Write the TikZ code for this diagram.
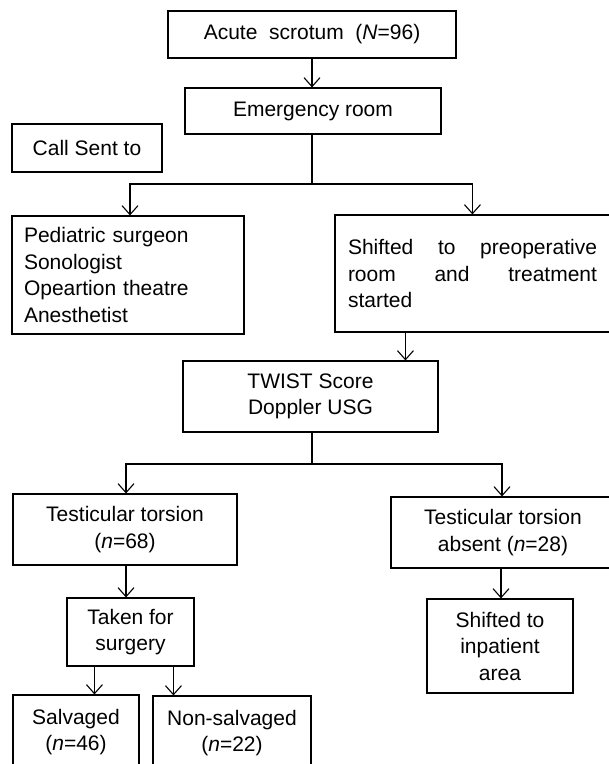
\documentclass[tikz,border=0pt]{standalone}
\usepackage{fontspec}
\setmainfont{Liberation Sans}
\usetikzlibrary{arrows.meta}
\begin{document}
\begin{tikzpicture}[x=1pt,y=-1pt,
  box/.style={draw, line width=1.1pt, inner sep=0pt, font=\fontsize{21}{26.5}\selectfont, align=center},
  arr/.style={line width=1.1pt, -{Straight Barb[length=9pt,width=16pt,line width=1.1pt]}},
  ln/.style={line width=1.1pt}]
\useasboundingbox (0,0) rectangle (609,764);
\clip (0,0) rectangle (609,764);
\fill[white] (0,0) rectangle (609,764);
% boxes
\node[box, minimum width=288pt, minimum height=47pt] (acute) at (312,34.5) {Acute\ \ scrotum\ \ (\textit{N}=96)};
\node[box, minimum width=256pt, minimum height=46pt] (er) at (313,111) {Emergency room};
\node[box, minimum width=150pt, minimum height=48pt] (call) at (87,148) {Call Sent to};
\node[box, text width=208pt, inner xsep=12pt, align=left, minimum height=118pt] (ped) at (128,275)
  {Pediatric surgeon\\Sonologist\\Opeartion\ theatre\\Anesthetist};
\node[box, text width=249pt, inner xsep=13pt, align=left, minimum height=117pt] (shift) at (472.5,273.5)
  {\leavevmode\hbox to 249pt{Shifted\hfill to\hfill preoperative}\\\leavevmode\hbox to 249pt{room\hfill and\hfill treatment}\\started};
\node[box, minimum width=255pt, minimum height=71pt] (twist) at (310.5,396.5) {TWIST Score\\Doppler USG};
\node[box, minimum width=224pt, minimum height=71pt] (tt) at (125,529.5) {Testicular torsion\\(\textit{n}=68)};
\node[box, minimum width=224pt, minimum height=71pt] (absent) at (503,532.5) {Testicular torsion\\absent\ (\textit{n}=28)};
\node[box, minimum width=127pt, minimum height=68pt] (taken) at (130.5,632) {Taken for\\surgery};
\node[box, minimum width=146pt, minimum height=94pt] (inp) at (500,646) {Shifted to\\inpatient\\area};
\node[box, minimum width=126pt, minimum height=96pt] (salv) at (76,743) {Salvaged\\(\textit{n}=46)\\\mbox{}};
\node[box, minimum width=158pt, minimum height=96pt] (nons) at (232,744) {Non-salvaged\\(\textit{n}=22)\\\mbox{}};
% connectors
\draw[arr] (acute.south) -- (acute.south |- er.north);
\coordinate (j1) at (312,184);
\draw[ln] (j1 |- er.south) -- (j1);
\coordinate (pl) at ([xshift=2pt]ped.north);
\draw[arr] (j1) -| (pl);
\coordinate (sr) at ([xshift=138pt]shift.north west);
\draw[arr] (j1) -| (sr);
\coordinate (s2) at ([xshift=71pt]shift.south west);
\draw[arr] (s2) -- (s2 |- twist.north);
\coordinate (j2) at (312,464);
\draw[ln] (j2 |- twist.south) -- (j2);
\coordinate (tl) at ([xshift=1pt]tt.north);
\draw[arr] (j2) -| (tl);
\coordinate (ar) at ([xshift=-1pt]absent.north);
\draw[arr] (j2) -| (ar);
\coordinate (t0) at ([xshift=1pt]tt.south);
\draw[arr] (t0) -- (t0 |- taken.north);
\coordinate (t1) at ([xshift=28pt]taken.south west);
\draw[arr] (t1) -- (t1 |- salv.north);
\coordinate (t2) at ([xshift=107pt]taken.south west);
\draw[arr] (t2) -- (t2 |- nons.north);
\coordinate (a0) at ([xshift=1pt]inp.north);
\draw[arr] (a0 |- absent.south) -- (a0);
\end{tikzpicture}
\end{document}
